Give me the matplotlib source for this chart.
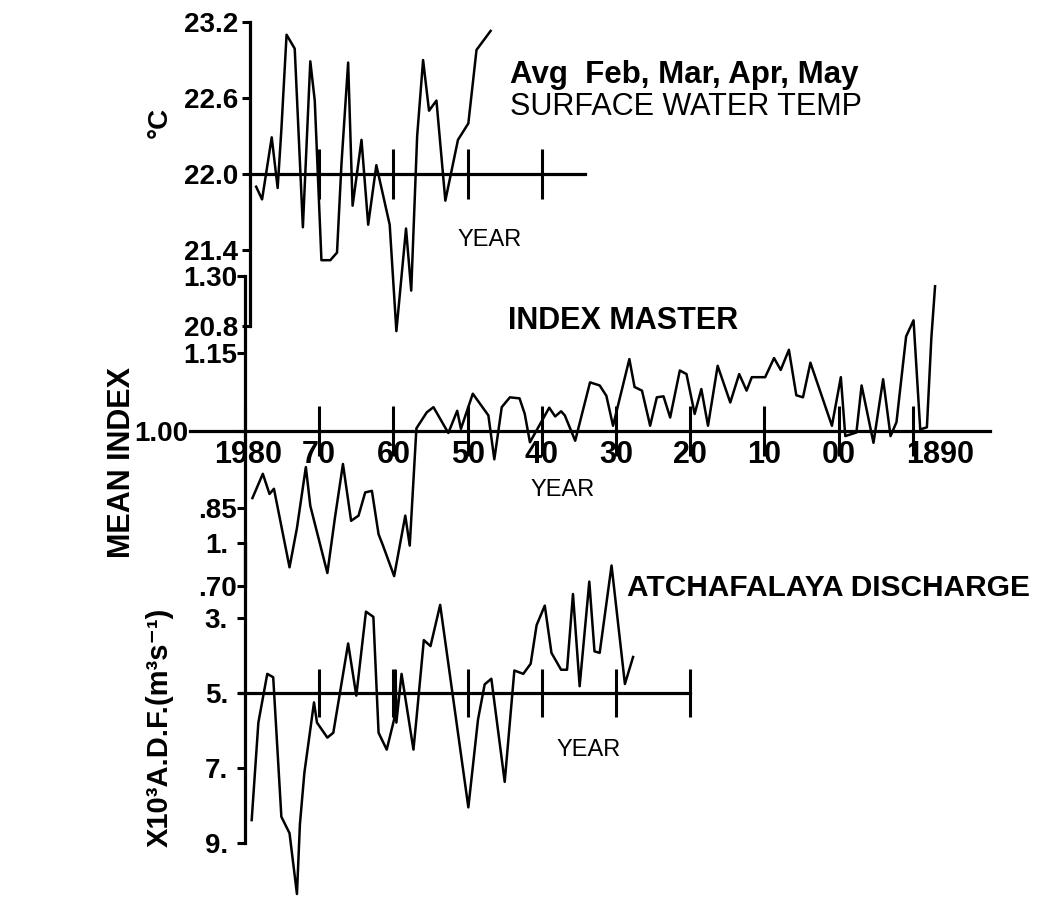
import matplotlib
matplotlib.use('Agg')
import matplotlib.pyplot as plt
import matplotlib.transforms as mtransforms

plt.rcParams['font.family'] = ['Liberation Sans', 'DejaVu Sans']

# ---------------- data ----------------
# Surface water temperature (deg C), Feb-May average
temp_years = [1978.5, 1977.7, 1976.4, 1975.6, 1975.1, 1974.4, 1973.3, 1972.2, 1971.2, 1970.6,
              1969.7, 1968.5, 1967.6, 1967.0, 1966.1, 1965.5, 1964.3, 1963.4, 1962.3, 1960.5,
              1959.6, 1958.3, 1957.6, 1956.8, 1956.0, 1955.2, 1954.2, 1953.0, 1951.3, 1949.9,
              1948.8, 1946.9]
temp_vals = [21.90, 21.80, 22.29, 21.89, 22.35, 23.10, 22.99, 21.58, 22.89, 22.58,
             21.32, 21.32, 21.38, 22.08, 22.88, 21.75, 22.27, 21.60, 22.07, 21.60,
             20.76, 21.57, 21.08, 22.30, 22.90, 22.50, 22.58, 21.79, 22.27, 22.40,
             22.98, 23.13]
temp_ticks = [23.2, 22.6, 22.0, 21.4, 20.8]
temp_ticklabels = ['23.2', '22.6', '22.0', '21.4', '20.8']
temp_year_ticks = [1970, 1960, 1950, 1940]

# Master tree-ring index
index_years = [1979.0, 1977.6, 1976.7, 1976.1, 1974.0, 1973.0, 1971.8, 1971.2, 1968.9, 1967.9,
               1966.8, 1965.7, 1964.7, 1963.8, 1962.9, 1962.0, 1961.4, 1959.9, 1958.4, 1957.8,
               1956.9, 1955.5, 1954.6, 1952.6, 1951.4, 1950.9, 1949.3, 1947.2, 1946.4, 1945.4,
               1944.3, 1943.0, 1942.3, 1941.6, 1939.0, 1938.2, 1937.4, 1936.9, 1935.5, 1933.5,
               1932.2, 1931.3, 1930.4, 1928.2, 1927.5, 1926.5, 1925.4, 1924.5, 1923.6, 1922.7,
               1921.4, 1920.5, 1919.4, 1918.5, 1917.6, 1916.3, 1914.6, 1913.4, 1912.4, 1911.7,
               1909.9, 1908.7, 1907.8, 1906.7, 1905.7, 1904.8, 1903.8, 1900.9, 1899.7, 1899.1,
               1897.6, 1896.9, 1895.3, 1894.0, 1893.0, 1892.2, 1890.9, 1889.9, 1889.0, 1888.1,
               1887.5, 1887.0]
index_vals = [0.870, 0.917, 0.878, 0.888, 0.736, 0.812, 0.930, 0.855, 0.725, 0.830,
              0.936, 0.826, 0.836, 0.881, 0.884, 0.800, 0.778, 0.719, 0.836, 0.778,
              1.005, 1.036, 1.046, 0.996, 1.039, 1.004, 1.072, 1.030, 0.945, 1.046,
              1.065, 1.063, 1.033, 0.978, 1.045, 1.028, 1.038, 1.030, 0.981, 1.094,
              1.088, 1.068, 1.010, 1.139, 1.085, 1.078, 1.010, 1.065, 1.067, 1.026,
              1.117, 1.110, 1.033, 1.081, 1.010, 1.126, 1.055, 1.110, 1.078, 1.104,
              1.104, 1.141, 1.118, 1.157, 1.069, 1.065, 1.132, 1.010, 1.104, 0.990,
              0.997, 1.088, 0.977, 1.100, 0.990, 1.017, 1.183, 1.214, 1.003, 1.007,
              1.180, 1.280]
index_ticks = [1.30, 1.15, 1.00, 0.85, 0.70]
index_ticklabels = ['1.30', '1.15', '1.00', '.85', '.70']
index_year_ticks = [1980, 1970, 1960, 1950, 1940, 1930, 1920, 1910, 1900, 1890]
index_year_labels = ['1980', '70', '60', '50', '40', '30', '20', '10', '00', '1890']

# Atchafalaya discharge (x10^3 m^3 s^-1), axis inverted
dis_years = [1979.1, 1978.2, 1977.0, 1976.2, 1975.1, 1974.0, 1973.0, 1972.6, 1972.0, 1970.7,
             1970.3, 1968.9, 1968.1, 1966.1, 1965.0, 1963.7, 1962.7, 1962.0, 1960.9, 1959.9,
             1959.7, 1959.6, 1958.9, 1957.3, 1956.9, 1955.9, 1955.0, 1953.7, 1949.9, 1948.6,
             1947.7, 1946.8, 1945.0, 1943.7, 1942.5, 1941.5, 1940.7, 1939.6, 1938.7, 1937.4,
             1936.6, 1935.8, 1934.9, 1933.6, 1932.9, 1932.2, 1930.6, 1928.8, 1927.7]
dis_vals = [8.39, 5.79, 4.49, 4.58, 8.30, 8.74, 10.36, 8.50, 7.13, 5.25,
            5.79, 6.19, 6.06, 3.68, 5.07, 2.83, 2.97, 6.06, 6.51, 5.70,
            4.40, 5.79, 4.49, 6.51, 5.70, 3.59, 3.75, 2.65, 8.05, 5.71,
            4.77, 4.62, 7.37, 4.40, 4.49, 4.22, 3.19, 2.67, 3.93, 4.38,
            4.38, 2.36, 4.82, 2.03, 3.89, 3.93, 1.60, 4.76, 4.04]
dis_ticks = [1, 3, 5, 7, 9]
dis_ticklabels = ['1.', '3.', '5.', '7.', '9.']
dis_year_ticks = [1970, 1960, 1950, 1940, 1930, 1920]

# ---------------- figure ----------------
W, H = 1050, 898
fig = plt.figure(figsize=(W / 100, H / 100), dpi=100)
fig.patch.set_facecolor('white')
X_LEFT, X_RIGHT = 2013.02, 1871.51
LW_AX = 2.3
LW_DATA = 1.8
FS_TICK = 20


def make_ax(ylim):
    ax = fig.add_axes([0, 0, 1, 1], facecolor='none')
    ax.set_xlim(X_LEFT, X_RIGHT)
    ax.set_ylim(*ylim)
    ax.spines['top'].set_visible(False)
    ax.spines['right'].set_visible(False)
    for s in ('left', 'bottom'):
        ax.spines[s].set_linewidth(LW_AX)
    return ax


def lbl(ax, x, y, s, dx=0, dy=0, **kw):
    tr = mtransforms.offset_copy(ax.transData, fig=fig, x=dx, y=dy, units='dots')
    ax.text(x, y, s, transform=tr, **kw)


def ftext(x, y, s, **kw):
    fig.text(x / W, 1 - y / H, s, **kw)


# ---- temperature panel ----
ax_t = make_ax((16.285, 23.374))
ax_t.plot(temp_years, temp_vals, color='black', lw=LW_DATA)
ax_t.spines['left'].set_position(('data', 1979.33))
ax_t.spines['left'].set_bounds(20.8, 23.2)
ax_t.spines['bottom'].set_position(('data', 22.0))
ax_t.spines['bottom'].set_bounds(1979.33, 1934.2)
ax_t.set_xticks(temp_year_ticks)
ax_t.set_yticks(temp_ticks)
ax_t.tick_params(axis='x', direction='inout', length=36, width=2.2, labelbottom=False)
ax_t.tick_params(axis='y', direction='out', length=6, width=2.2, labelleft=False)
for v, s in zip(temp_ticks, temp_ticklabels):
    lbl(ax_t, 1979.33, v, s, dx=-12, ha='right', va='center_baseline',
        fontsize=FS_TICK, fontweight='bold')

# ---- index panel ----
ax_i = make_ax((0.096, 1.834))
ax_i.plot(index_years, index_vals, color='black', lw=LW_DATA)
ax_i.spines['left'].set_position(('data', 1980))
ax_i.spines['left'].set_bounds(0.70, 1.30)
ax_i.spines['bottom'].set_position(('data', 1.0))
ax_i.spines['bottom'].set_bounds(1987.4, 1879.6)
ax_i.set_xticks(index_year_ticks)
ax_i.set_yticks(index_ticks)
ax_i.tick_params(axis='x', direction='inout', length=36, width=2.2, labelbottom=False)
ax_i.tick_params(axis='y', direction='out', length=6, width=2.2, labelleft=False)
for v, s in zip(index_ticks, index_ticklabels):
    dx = -57 if s == '1.00' else -8
    lbl(ax_i, 1980, v, s, dx=dx, ha='right', va='center_baseline',
        fontsize=FS_TICK, fontweight='bold')
for yr, s in zip(index_year_ticks, index_year_labels):
    dx = 3 if s == '1980' else (27 if s == '1890' else 0)
    lbl(ax_i, yr, 1.0, s, dx=dx, dy=-21, ha='center', va='center_baseline',
        fontsize=22, fontweight='bold')

# ---- discharge panel ----
ax_d = make_ax((10.467, -13.48))
ax_d.plot(dis_years, dis_vals, color='black', lw=LW_DATA)
ax_d.spines['left'].set_position(('data', 1980))
ax_d.spines['left'].set_bounds(1, 9)
ax_d.spines['bottom'].set_position(('data', 5.0))
ax_d.spines['bottom'].set_bounds(1980.7, 1920)
ax_d.set_xticks(dis_year_ticks)
ax_d.set_yticks(dis_ticks)
ax_d.tick_params(axis='x', direction='inout', length=35, width=2.2, labelbottom=False)
ax_d.tick_params(axis='y', direction='out', length=6, width=2.2, labelleft=False)
for v, s in zip(dis_ticks, dis_ticklabels):
    lbl(ax_d, 1980, v, s, dx=-17, ha='right', va='center_baseline',
        fontsize=FS_TICK, fontweight='bold')

# ---- titles and axis labels ----
ftext(510, 75, 'Avg  Feb, Mar, Apr, May', ha='left', va='center',
      fontsize=22.5, fontweight='bold')
ftext(510, 107, 'SURFACE WATER TEMP', ha='left', va='center', fontsize=22)
ftext(508, 321, 'INDEX MASTER', ha='left', va='center', fontsize=22, fontweight='bold')
ftext(627, 588, 'ATCHAFALAYA DISCHARGE', ha='left', va='center',
      fontsize=21.5, fontweight='bold')
ftext(490, 240, 'YEAR', ha='center', va='center', fontsize=17)
ftext(563, 490, 'YEAR', ha='center', va='center', fontsize=17)
ftext(589, 750, 'YEAR', ha='center', va='center', fontsize=17)
ftext(160, 122, '°C', ha='center', va='center', rotation=90, fontsize=20,
      fontweight='bold')
ftext(122, 462, 'MEAN INDEX', ha='center', va='center', rotation=90, fontsize=22,
      fontweight='bold')
ftext(160, 727, 'X10³A.D.F.(m³s⁻¹)', ha='center', va='center', rotation=90,
      fontsize=21, fontweight='bold')

fig.savefig('out.png', dpi=100, facecolor='white')
